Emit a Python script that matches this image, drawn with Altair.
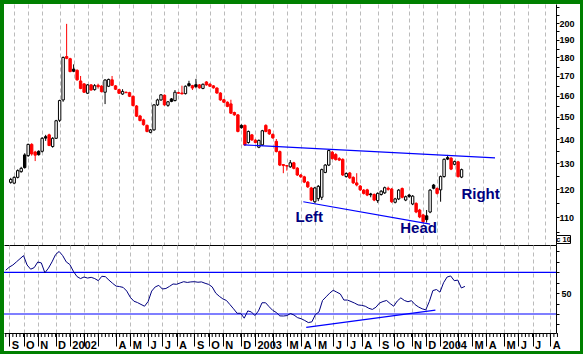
import json
import altair as alt
import pandas as pd
import numpy as np

# ---------------- data ----------------
first_week = "2001-08-31"   # weekly bars, one per Friday

opens = [122.5,122.2,124.4,126.6,133.3,133.0,137.7,134.5,134.8,134.8,
         141.0,141.8,136.8,140.3,148.3,157.9,180.5,179.3,173.6,173.0,
         167.4,165.9,161.2,165.4,163.0,165.2,164.8,161.7,164.7,168.0,
         164.9,163.0,160.8,161.7,161.5,159.7,155.0,150.3,148.5,146.0,
         142.9,144.0,155.5,157.9,160.2,155.3,158.4,157.6,161.5,161.3,
         161.0,166.0,165.0,165.5,165.4,163.6,166.9,165.8,164.9,163.8,
         161.3,158.0,156.8,156.0,151.9,150.8,146.0,146.0,138.5,141.8,
         139.5,136.5,137.5,146.0,144.0,142.0,139.0,134.7,129.4,129.0,
         128.5,130.1,128.0,125.3,124.6,122.6,120.4,115.4,116.5,117.0,
         126.3,129.2,134.4,133.5,131.8,131.5,124.7,126.1,124.4,122.3,
         121.1,119.6,119.7,118.2,118.0,115.8,118.0,118.6,120.3,120.0,
         115.2,116.4,120.2,116.0,117.8,114.6,114.8,112.5,110.8,110.5,
         111.8,121.5,120.2,119.7,124.7,132.2,132.0,129.5,130.5,124.5]
highs = [124.2,124.8,127.5,128.5,134.0,138.0,138.2,135.0,135.2,140.8,
         141.8,142.3,140.8,148.5,158.0,180.5,199.6,179.8,176.2,173.5,
         170.0,166.3,165.8,165.8,165.8,166.0,165.2,168.3,168.6,170.0,
         165.3,163.4,163.2,162.0,161.9,160.0,155.4,150.8,149.0,146.4,
         144.4,155.9,158.5,160.8,160.6,157.4,158.8,162.8,161.9,165.0,
         165.1,167.5,165.4,168.5,165.8,166.1,167.3,166.2,165.3,164.2,
         161.7,158.4,157.2,158.0,152.3,151.2,146.5,146.4,143.7,142.2,
         139.9,139.8,144.0,146.5,144.4,142.4,140.0,135.1,129.6,129.2,
         131.2,130.5,128.4,125.7,125.0,123.0,120.8,120.8,121.5,127.8,
         129.6,135.5,135.0,134.0,132.4,131.9,126.3,126.5,124.8,126.0,
         121.5,120.0,120.1,118.6,118.4,118.8,119.6,120.9,120.9,120.4,
         116.8,120.0,120.6,117.6,118.2,117.8,115.2,112.9,111.2,112.5,
         120.0,121.9,120.6,125.1,131.9,133.3,132.4,131.0,130.9,127.8]
lows = [122.0,121.8,124.0,126.2,127.8,132.5,133.0,130.8,133.0,134.3,
        139.2,137.0,136.3,140.0,147.5,157.0,179.0,172.0,172.0,167.5,
        163.2,161.3,160.8,162.5,162.5,163.5,161.6,155.9,164.3,164.8,
        162.8,160.8,160.4,161.2,159.3,154.8,149.8,147.8,145.9,142.9,
        142.5,143.6,155.0,157.5,155.1,154.6,156.8,157.2,160.9,160.6,
        160.6,164.5,162.8,163.7,163.5,163.2,165.0,164.3,163.5,160.9,
        157.5,156.4,154.4,151.2,150.4,142.9,144.5,137.1,138.0,139.2,
        138.1,136.1,137.1,142.9,141.8,140.1,134.3,128.8,126.0,127.0,
        128.1,127.5,124.9,124.2,122.2,120.4,115.6,115.0,115.6,116.0,
        126.0,128.8,131.4,131.0,130.8,124.9,124.3,123.8,121.9,121.0,
        119.3,118.0,117.4,117.0,115.6,115.0,117.6,118.2,119.4,115.0,
        114.8,116.0,116.6,115.6,116.8,114.2,111.4,109.7,108.0,108.2,
        111.4,119.9,118.0,115.4,124.3,131.2,127.2,129.1,124.3,124.1]
closes = [123.6,124.4,127.0,127.9,128.2,137.7,133.7,133.2,133.4,140.3,
          140.4,137.2,140.3,148.1,157.6,180.0,179.5,172.3,172.5,168.0,
          163.6,161.7,165.4,162.8,165.0,164.5,162.0,167.9,168.2,165.2,
          163.2,161.2,162.1,161.5,159.7,155.2,150.2,148.2,146.3,143.3,
          144.0,155.5,157.9,160.4,155.5,157.0,157.2,161.7,161.2,160.9,
          164.7,165.0,163.8,164.5,163.9,165.7,165.4,164.7,163.9,161.3,
          157.9,156.8,154.8,151.6,150.8,143.3,145.0,137.5,143.3,139.6,
          138.5,139.4,143.6,143.3,142.2,140.5,134.7,129.2,129.0,128.8,
          130.1,127.9,125.3,124.6,122.6,120.8,116.0,120.4,121.0,127.4,
          129.2,135.1,131.8,131.4,131.2,125.3,125.9,124.2,122.3,121.5,
          119.7,118.4,117.8,117.9,116.0,118.4,119.2,120.5,119.9,115.4,
          116.4,119.6,117.0,117.2,117.3,117.4,111.8,110.1,108.5,109.2,
          119.6,120.3,118.4,124.7,131.5,131.6,127.6,130.6,124.7,127.4]
osc = [72,75,77,80,83,86,77,73,74.5,79.9,
       79,69.5,74,80,87,90,86,80,77.5,71,
       66,64,65.5,64.5,65.2,64,62,66.2,65.8,62.5,
       59.5,56.8,56.3,55.5,52,46,42.3,41,39.2,37.5,
       42,52,56,57.5,54,54.5,56.5,58.8,58.5,59.8,
       61,60.3,60.8,61,60.5,60.8,59.5,58.4,56,50,
       47,44.5,43,39,35,30.7,30.7,26,33,32,
       28.5,33,40.8,40.8,37,33.5,31.5,28.2,28.1,28.5,
       30.5,29,26.5,25.5,23.8,21.8,22.5,29.5,32,43,
       46.5,50,52.8,51,49.2,43.4,43.4,42,40.5,38.7,
       38.3,37.5,35.5,34.4,36.5,40.5,42,43,40,37.5,
       42.5,45.5,43,41.8,42.8,39,36.7,35,34,42,
       52.5,53.5,51,60,65.5,66.5,62,62.5,55,56.5]

month_labels = ["S","O","N","D",
                "2002","","","A","M","J","J","A","S","O","N","D",
                "2003","","M","A","M","J","J","A","S","O","N","D",
                "2004","","M","A","M","J","J","A"]
price_ticks = list(range(105, 215, 5))
price_labelled = list(range(110, 210, 10))
osc_ticks = [20, 30, 40, 50, 60, 70, 80, 90]
osc_labelled = [50]
osc_levels = [30, 70]

neck_dates = ["2002-12-11", "2004-04-27"]
neck_prices = [137.5, 132.1]
base_dates = ["2003-04-09", "2003-12-19"]
base_prices = [115.4, 107.7]
osc_tl_dates = ["2003-04-14", "2003-12-24"]
osc_tl_values = [17.2, 33.8]
ann_text = ["Left", "Head", "Right"]
ann_dates = ["2003-04-21", "2003-11-26", "2004-03-29"]
ann_prices = [108.4, 104.8, 116.4]

# ---------------- helpers ----------------
def ms(d):
    return int(pd.Timestamp(d).value // 10**6)

dates = pd.date_range(first_week, periods=len(closes), freq="7D")
df = pd.DataFrame({"t": [ms(d) for d in dates], "o": opens, "h": highs,
                   "l": lows, "c": closes, "osc": osc})
prev = df["c"].shift(1).fillna(df["c"].iloc[0])
up = df["c"] >= prev
df["sk"] = np.where(up, "black", "red")
df["fk"] = np.where(df["c"] > df["o"], "hollow", np.where(up, "black", "red"))
df["lo"] = df[["o", "c"]].min(axis=1)
df["hi"] = df[["o", "c"]].max(axis=1)

month_starts = pd.date_range("2001-09-01", "2004-08-01", freq="MS")
first_fridays = [m + pd.Timedelta(days=(4 - m.weekday()) % 7) for m in month_starts]
month_ms = [ms(d) for d in first_fridays]
weeks_ms = [ms(d) for d in pd.date_range(first_week, "2004-08-20", freq="7D")]

x0 = pd.Timestamp("2001-09-07") - pd.Timedelta(days=10.42)
x1 = x0 + pd.Timedelta(days=552 / 0.5085)
xscale = alt.Scale(type="utc", domain=[ms(x0), ms(x1)], nice=False)

FONT = "Liberation Sans"
GRID = dict(grid=True, gridDash=[4, 3], gridColor="#bbbbbb", gridWidth=1)

top_xaxis = alt.Axis(values=month_ms, labels=False, ticks=False, domain=True,
                     domainColor="black", title=None, **GRID)
month_expr = ("indexof(%s, time(datum.value)) >= 0 ? %s[indexof(%s, time(datum.value))] : ''"
              % (json.dumps(month_ms), json.dumps(month_labels), json.dumps(month_ms)))
bot_xaxis = alt.Axis(values=month_ms, labelExpr=month_expr, title=None,
                     tickSize=13, tickColor="black", domainColor="black",
                     labelFont=FONT, labelFontSize=11, labelFontWeight="bold",
                     labelColor="black", labelAlign="left", labelBaseline="top",
                     labelPadding=-6.5, labelOffset=2, labelOverlap=False,
                     labelFlush=False, **GRID)

pscale = alt.Scale(type="log", domain=[101.0, 212.2], nice=False, zero=False)
paxis = alt.Axis(orient="right", values=price_ticks,
                 labelExpr="indexof(%s, datum.value) >= 0 ? '' + datum.value : ''" % json.dumps(price_labelled),
                 tickSize=3, tickColor="black", domainColor="black", grid=False,
                 labelFont=FONT, labelFontSize=9, labelFontWeight="bold",
                 labelColor="black", labelPadding=0, title=None)
oscale = alt.Scale(domain=[11.8, 96.2], nice=False, zero=False)
oaxis = alt.Axis(orient="right", values=osc_ticks,
                 labelExpr="indexof(%s, datum.value) >= 0 ? '' + datum.value : ''" % json.dumps(osc_labelled),
                 tickSize=3, tickColor="black", domainColor="black", grid=False,
                 labelFont=FONT, labelFontSize=9, labelFontWeight="bold",
                 labelColor="black", labelPadding=2, title=None)

fill_scale = alt.Scale(domain=["hollow", "black", "red"], range=["#ffffff", "#000000", "#ff0000"])
stroke_scale = alt.Scale(domain=["black", "red"], range=["#000000", "#ff0000"])

xt = alt.X("t:T", scale=xscale, axis=top_xaxis)
xb = alt.X("t:T", scale=xscale, axis=bot_xaxis)

# ---------------- price panel ----------------
wicks = alt.Chart(df).mark_rule(strokeWidth=1).encode(
    x=xt, y=alt.Y("l:Q", scale=pscale, axis=paxis), y2="h:Q",
    stroke=alt.Stroke("sk:N", scale=stroke_scale, legend=None))
bodies = alt.Chart(df).mark_bar(size=2.4, strokeWidth=1).encode(
    x=xt, y=alt.Y("lo:Q", scale=pscale, axis=paxis), y2="hi:Q",
    fill=alt.Fill("fk:N", scale=fill_scale, legend=None),
    stroke=alt.Stroke("sk:N", scale=stroke_scale, legend=None))

tl = pd.DataFrame({
    "t": [ms(d) for d in neck_dates + base_dates],
    "p": neck_prices + base_prices,
    "line": ["neck", "neck", "base", "base"]})
tlines = alt.Chart(tl).mark_line(color="#0000ff", strokeWidth=1.2).encode(
    x=xt, y=alt.Y("p:Q", scale=pscale, axis=paxis), detail="line:N")

ann = pd.DataFrame({"t": [ms(d) for d in ann_dates], "p": ann_prices, "txt": ann_text})
labels = alt.Chart(ann).mark_text(font=FONT, fontSize=15, fontWeight="bold",
                                  color="#000080", align="center",
                                  baseline="alphabetic").encode(
    x=xt, y=alt.Y("p:Q", scale=pscale, axis=paxis), text="txt:N")

one = alt.Data(values=[{}])
cbox = alt.Chart(one).mark_rect(fill="white", stroke="black", strokeWidth=1).encode(
    x=alt.value(552.5), x2=alt.value(566.5), y=alt.value(231.5), y2=alt.value(239.5))
ctext = alt.Chart(one).mark_text(text="c 10", font=FONT, fontSize=7.5, fontWeight="bold",
                                 color="black", align="center", baseline="middle").encode(
    x=alt.value(559.5), y=alt.value(235.8))

top = alt.layer(wicks, bodies, tlines, labels, cbox, ctext).properties(width=552, height=241)

# ---------------- oscillator panel ----------------
lev = pd.DataFrame({"v": osc_levels})
levels = alt.Chart(lev).mark_rule(color="#0000ff", strokeWidth=1.2).encode(
    y=alt.Y("v:Q", scale=oscale, axis=oaxis))
oline = alt.Chart(df).mark_line(color="#000080", strokeWidth=1).encode(
    x=xb, y=alt.Y("osc:Q", scale=oscale, axis=oaxis))
otl = pd.DataFrame({"t": [ms(d) for d in osc_tl_dates], "osc": osc_tl_values})
otline = alt.Chart(otl).mark_line(color="#0000ff", strokeWidth=1.2).encode(
    x=xb, y=alt.Y("osc:Q", scale=oscale, axis=oaxis))
wk = pd.DataFrame({"t": weeks_ms})
wticks = alt.Chart(wk).mark_rule(color="black", strokeWidth=1).encode(
    x=xb, y=alt.value(88), y2=alt.value(92))

GREEN = "#008000"
def frame(xa, xb_, ya, yb):
    return alt.Chart(one).mark_rect(color=GREEN, strokeWidth=0).encode(
        x=alt.value(xa), x2=alt.value(xb_), y=alt.value(ya), y2=alt.value(yb))

frames = [frame(-4, 0, -245, 109), frame(-4, 579, -245, -241),
          frame(576, 579, -245, 109), frame(-4, 579, 106, 109)]

bottom = alt.layer(levels, oline, otline, wticks, *frames).properties(width=552, height=88)

chart = alt.vconcat(top, bottom, spacing=0, bounds="flush").properties(
    padding=0, background="white").configure_view(stroke=None)

chart.save("out.html", embed_options={"renderer": "svg", "actions": False})
